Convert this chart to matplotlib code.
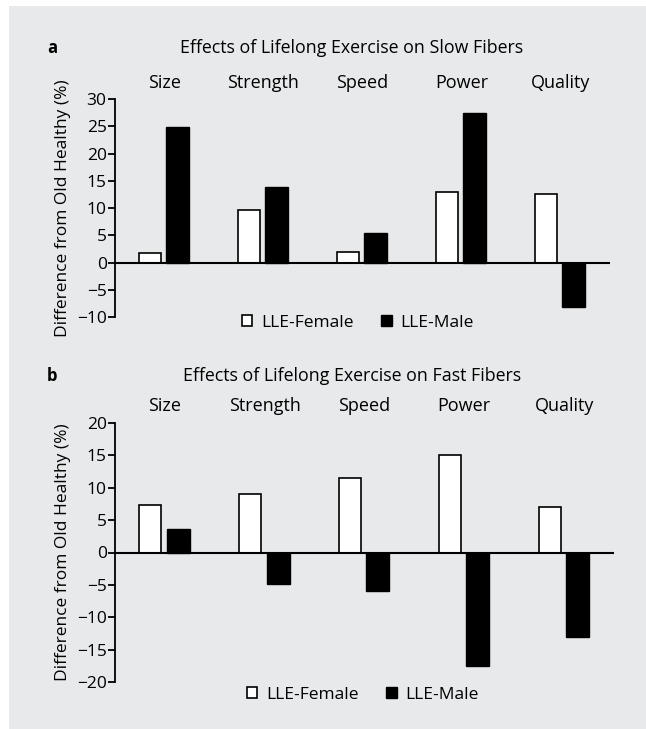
import matplotlib.pyplot as plt
import matplotlib.patches as mpatches
import matplotlib.transforms as mtransforms
import numpy as np

plt.rcParams['font.family'] = ['Open Sans', 'DejaVu Sans']

# data
categories = ['Size', 'Strength', 'Speed', 'Power', 'Quality']
slow_female = [1.7, 9.6, 1.9, 12.9, 12.6]
slow_male = [24.9, 13.8, 5.4, 27.4, -8.2]
fast_female = [7.3, 9.0, 11.5, 15.0, 7.0]
fast_male = [3.7, -4.9, -5.9, -17.6, -13.1]

BG = '#e8e9ea'

fig = plt.figure(figsize=(6.46, 7.29), dpi=100, facecolor='white')
# grey panel behind everything
fig.patches.append(mpatches.Rectangle((9 / 646, 0), 1, 1 - 6 / 729,
                                      transform=fig.transFigure,
                                      facecolor=BG, edgecolor='none', zorder=-10))

ax_a = fig.add_axes([115 / 646, 1 - 317 / 729, 495 / 646, 218 / 729])
ax_b = fig.add_axes([115 / 646, 1 - 682 / 729, 499 / 646, 259 / 729])


def panel(ax, fem, male, ylim, yticks, letter, title, y_letter, y_cat, y_leg, x_leg):
    x = np.arange(len(categories))
    ax.set_facecolor('none')
    ax.bar(x - 0.145, fem, width=0.22, color='white', edgecolor='black',
           linewidth=1.2, zorder=2)
    ax.bar(x + 0.135, male, width=0.23, color='black', edgecolor='black',
           linewidth=1.0, zorder=2)
    ax.axhline(0, color='black', linewidth=1.5, zorder=3)
    ax.set_xlim(-0.5, 4.5)
    ax.set_ylim(*ylim)
    ax.set_yticks(yticks)
    ax.set_yticklabels([str(t).replace('-', '\u2212') for t in yticks])
    ax.set_xticks([])
    for s in ['top', 'right', 'bottom']:
        ax.spines[s].set_visible(False)
    ax.spines['left'].set_linewidth(1.3)
    ax.tick_params(axis='y', length=5, width=1.3, labelsize=12.5, pad=1)
    ax.set_ylabel('Difference from Old Healthy (%)', fontsize=12.5, labelpad=4)
    # panel letter and title
    fig.text(47 / 646, 1 - y_letter / 729, letter, fontsize=12, fontweight='bold',
             ha='left', va='center')
    fig.text(352 / 646, 1 - y_letter / 729, title, fontsize=12.8,
             ha='center', va='center')
    trans = mtransforms.blended_transform_factory(ax.transData, fig.transFigure)
    for i, c in enumerate(categories):
        ax.text(i, 1 - y_cat / 729, c, transform=trans, fontsize=13,
                ha='center', va='center')
    handles = [mpatches.Patch(facecolor='white', edgecolor='black', linewidth=1.2,
                              label='LLE-Female'),
               mpatches.Patch(facecolor='black', edgecolor='black', label='LLE-Male')]
    fig.legend(handles=handles, loc='center', ncol=2, frameon=False,
               bbox_to_anchor=(x_leg / 646, 1 - y_leg / 729), fontsize=12.5,
               handlelength=0.6, handleheight=0.6, handletextpad=0.5,
               columnspacing=1.6)


panel(ax_a, slow_female, slow_male, (-10, 30), list(range(-10, 31, 5)),
      'a', 'Effects of Lifelong Exercise on Slow Fibers', 48, 83, 323, 358)
panel(ax_b, fast_female, fast_male, (-20, 20), list(range(-20, 21, 5)),
      'b', 'Effects of Lifelong Exercise on Fast Fibers', 376, 406, 695, 363)

fig.savefig('out.png', dpi=100, facecolor='white')
